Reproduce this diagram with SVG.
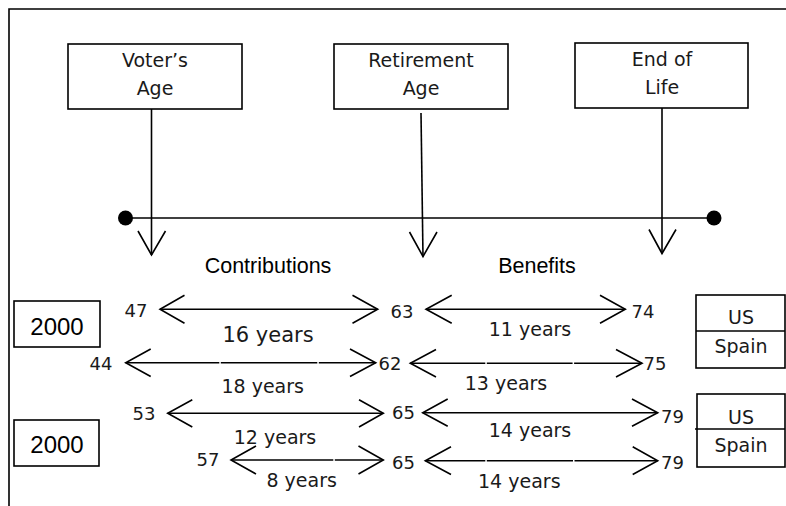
<svg xmlns="http://www.w3.org/2000/svg" width="786" height="506" viewBox="0 0 786 506">
  <style>
    .ln { stroke: #000; stroke-width: 1.6; fill: none; }
    .bx { stroke: #000; stroke-width: 1.6; fill: #fff; }
    .lbl { font-family: "DejaVu Sans", "Liberation Sans", sans-serif; font-size: 19px; fill: #1a1a1a; text-anchor: middle; }
    .num { font-family: "DejaVu Sans", "Liberation Sans", sans-serif; font-size: 18px; fill: #1a1a1a; text-anchor: middle; }
    .hd { font-family: "Liberation Sans", Arial, sans-serif; font-size: 21.5px; fill: #000; text-anchor: middle; }
    .yr { font-family: "Liberation Sans", Arial, sans-serif; font-size: 24px; fill: #000; text-anchor: middle; }
  </style>
  <rect width="786" height="506" fill="#fff"/>

  <!-- outer frame -->
  <path class="ln" d="M9,506 V9 H786"/>

  <!-- event boxes -->
  <g id="voters-age">
    <rect class="bx" x="68" y="44" width="174" height="65"/>
    <text class="lbl" x="155" y="67">Voter’s</text>
    <text class="lbl" x="155" y="95">Age</text>
  </g>
  <g id="retirement-age">
    <rect class="bx" x="334" y="44" width="174" height="65"/>
    <text class="lbl" x="421" y="67">Retirement</text>
    <text class="lbl" x="421" y="95">Age</text>
  </g>
  <g id="end-of-life">
    <rect class="bx" x="575" y="43" width="173" height="65"/>
    <text class="lbl" x="662" y="66">End of</text>
    <text class="lbl" x="662" y="93.5">Life</text>
  </g>

  <!-- timeline -->
  <g id="timeline">
    <line class="ln" x1="126" y1="218" x2="714" y2="218"/>
    <circle cx="125.5" cy="218" r="7.5" fill="#000"/>
    <circle cx="714" cy="218" r="7.5" fill="#000"/>
  </g>

  <!-- connectors -->
  <g id="connectors">
    <line class="ln" x1="151.5" y1="109" x2="151.5" y2="255"/>
    <polyline class="ln" points="138,231 151.5,255 165.5,231"/>
    <line class="ln" x1="421" y1="113" x2="423" y2="256.5"/>
    <polyline class="ln" points="409.5,232 423,256.5 437,232"/>
    <line class="ln" x1="662" y1="108" x2="662" y2="253.5"/>
    <polyline class="ln" points="649,229.5 662,253.5 676,229.5"/>

    <!-- contributions spans -->
    <line class="ln" x1="160" y1="309.3" x2="377.7" y2="309.3"/>
    <polyline class="ln" points="184.5,295.3 160,309.3 184.5,323.3"/>
    <polyline class="ln" points="352.5,295.3 377.7,309.3 352.5,323.3"/>

    <line class="ln" x1="125.7" y1="362.7" x2="219.3" y2="362.7"/>
    <line class="ln" x1="220.8" y1="362.7" x2="317.3" y2="362.7"/>
    <line class="ln" x1="318.8" y1="362.7" x2="375.7" y2="362.7"/>
    <polyline class="ln" points="150.7,349 125.7,362.7 150.7,376.5"/>
    <polyline class="ln" points="350,349 375.7,362.7 350,376.5"/>

    <line class="ln" x1="167.7" y1="413.3" x2="383.3" y2="413.3"/>
    <polyline class="ln" points="192.3,399.8 167.7,413.3 192.3,427"/>
    <polyline class="ln" points="359,399.8 383.3,413.3 359,427"/>

    <line class="ln" x1="231" y1="460" x2="333.3" y2="460"/>
    <line class="ln" x1="334.8" y1="460" x2="383.3" y2="460"/>
    <polyline class="ln" points="256,446 231,460 256,474"/>
    <polyline class="ln" points="358.5,446 383.3,460 358.5,474"/>

    <!-- benefits spans -->
    <line class="ln" x1="426" y1="309.3" x2="625.3" y2="309.3"/>
    <polyline class="ln" points="451.7,295.3 426,309.3 451.7,323.3"/>
    <polyline class="ln" points="600,295.3 625.3,309.3 600,323.3"/>

    <line class="ln" x1="410.3" y1="363.3" x2="485.3" y2="363.3"/>
    <line class="ln" x1="486.8" y1="363.3" x2="572.6" y2="363.3"/>
    <line class="ln" x1="574.1" y1="363.3" x2="642" y2="363.3"/>
    <polyline class="ln" points="436,349.5 410.3,363.3 436,377"/>
    <polyline class="ln" points="616,349.5 642,363.3 616,377"/>

    <line class="ln" x1="422.7" y1="412.7" x2="657.7" y2="412.7"/>
    <polyline class="ln" points="447.7,399 422.7,412.7 447.7,426.3"/>
    <polyline class="ln" points="632,399 657.7,412.7 632,426.3"/>

    <line class="ln" x1="425.3" y1="460.7" x2="485.3" y2="460.7"/>
    <line class="ln" x1="486.8" y1="460.7" x2="573" y2="460.7"/>
    <line class="ln" x1="574.5" y1="460.7" x2="657.7" y2="460.7"/>
    <polyline class="ln" points="451,446.7 425.3,460.7 451,474.5"/>
    <polyline class="ln" points="632.7,446.7 657.7,460.7 632.7,474.5"/>
  </g>

  <!-- section headings -->
  <text class="hd" x="268" y="273">Contributions</text>
  <text class="hd" x="537" y="273">Benefits</text>

  <!-- year boxes -->
  <g id="year-2000-a">
    <rect class="bx" x="14" y="301" width="86" height="46"/>
    <text class="yr" x="57" y="335">2000</text>
  </g>
  <g id="year-2000-b">
    <rect class="bx" x="14" y="420" width="85" height="46"/>
    <text class="yr" x="57" y="453">2000</text>
  </g>

  <!-- country legends -->
  <g id="legend-a">
    <rect class="bx" x="696" y="295" width="89" height="73"/>
    <line class="ln" x1="696" y1="331" x2="785" y2="331"/>
    <text class="lbl" x="741" y="324">US</text>
    <text class="lbl" x="741" y="352.5">Spain</text>
  </g>
  <g id="legend-b">
    <rect class="bx" x="697" y="394" width="88" height="73"/>
    <line class="ln" x1="695" y1="429" x2="785" y2="429"/>
    <text class="lbl" x="741" y="424">US</text>
    <text class="lbl" x="741" y="452">Spain</text>
  </g>

  <!-- ages -->
  <g id="ages">
    <text class="num" x="136" y="317">47</text>
    <text class="num" x="101" y="370">44</text>
    <text class="num" x="144" y="420">53</text>
    <text class="num" x="208" y="466">57</text>
    <text class="num" x="402" y="318">63</text>
    <text class="num" x="390" y="370">62</text>
    <text class="num" x="403.5" y="418.5">65</text>
    <text class="num" x="403.5" y="469">65</text>
    <text class="num" x="643" y="318">74</text>
    <text class="num" x="655" y="370">75</text>
    <text class="num" x="672.5" y="423">79</text>
    <text class="num" x="672.5" y="469">79</text>
  </g>

  <!-- durations -->
  <g id="durations">
    <text class="lbl" x="268" y="341.5" style="font-size:21px">16 years</text>
    <text class="lbl" x="262.7" y="392.7">18 years</text>
    <text class="lbl" x="275" y="444">12 years</text>
    <text class="lbl" x="301.7" y="487.3">8 years</text>
    <text class="lbl" x="530" y="336">11 years</text>
    <text class="lbl" x="506" y="390">13 years</text>
    <text class="lbl" x="530" y="436.7">14 years</text>
    <text class="lbl" x="519.3" y="488.3">14 years</text>
  </g>
</svg>
